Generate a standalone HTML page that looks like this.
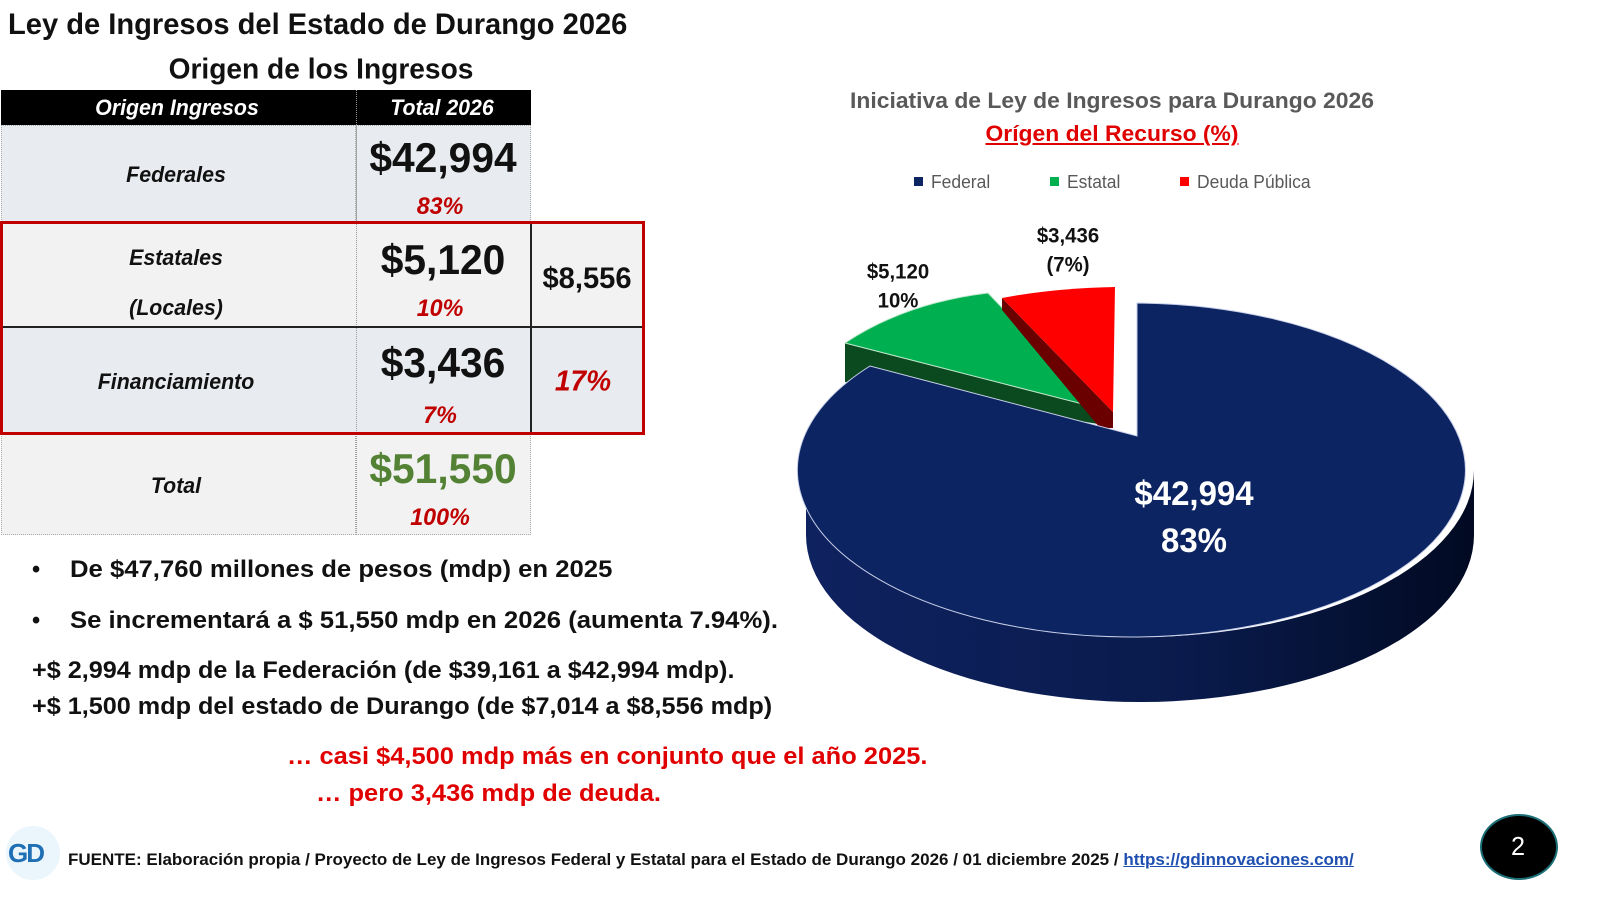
<!DOCTYPE html>
<html><head><meta charset="utf-8"><style>
html,body{margin:0;padding:0;background:#fff;}
body{width:1600px;height:901px;position:relative;overflow:hidden;font-family:"Liberation Sans",Arial,sans-serif;font-weight:bold;}
.t{position:absolute;white-space:nowrap;line-height:1;transform-origin:0 50%;transform:scaleX(.97);}
.c{position:absolute;white-space:nowrap;line-height:1;transform:translate(-50%,-50%) scaleX(.97);}
.i{font-style:italic;}
.cell{position:absolute;box-sizing:border-box;}
</style></head><body>
<div class="t" style="left:8px;top:10px;font-size:30px;color:#111">Ley de Ingresos del Estado de Durango 2026</div>
<div class="c" style="left:321px;top:70px;font-size:29px;color:#111">Origen de los Ingresos</div>

<!-- table -->
<div class="cell" style="left:1px;top:90px;width:530px;height:35px;background:#000"></div>
<div class="cell" style="left:1px;top:125px;width:355px;height:97px;background:#e8ebf0;border:1px dotted #aaa"></div>
<div class="cell" style="left:356px;top:125px;width:175px;height:97px;background:#e8ebf0;border:1px dotted #aaa"></div>
<div class="cell" style="left:1px;top:222px;width:642px;height:105px;background:#f2f2f2"></div>
<div class="cell" style="left:1px;top:327px;width:642px;height:106px;background:#e8ebf0"></div>
<div class="cell" style="left:1px;top:433px;width:355px;height:102px;background:#f2f2f2;border:1px dotted #aaa"></div>
<div class="cell" style="left:356px;top:433px;width:175px;height:102px;background:#f2f2f2;border:1px dotted #aaa"></div>
<div class="cell" style="left:356px;top:90px;width:1px;height:445px;border-left:1px dotted #999"></div>
<div class="cell" style="left:530px;top:222px;width:2px;height:211px;background:#222"></div>
<div class="cell" style="left:1px;top:326px;width:642px;height:2px;background:#222"></div>
<div class="cell" style="left:0;top:221px;width:645px;height:214px;border:3px solid #c00000"></div>

<div class="c i" style="left:177px;top:108px;font-size:22px;color:#fff">Origen Ingresos</div>
<div class="c i" style="left:442px;top:108px;font-size:22px;color:#fff">Total 2026</div>
<div class="c i" style="left:176px;top:175px;font-size:22px;color:#111">Federales</div>
<div class="c" style="left:443px;top:158px;font-size:42px;color:#111">$42,994</div>
<div class="c i" style="left:440px;top:207px;font-size:24px;color:#c00000">83%</div>
<div class="c i" style="left:176px;top:258px;font-size:22px;color:#111">Estatales</div>
<div class="c i" style="left:176px;top:308px;font-size:22px;color:#111">(Locales)</div>
<div class="c" style="left:443px;top:260px;font-size:42px;color:#111">$5,120</div>
<div class="c i" style="left:440px;top:309px;font-size:24px;color:#c00000">10%</div>
<div class="c" style="left:587px;top:279px;font-size:30px;color:#111">$8,556</div>
<div class="c i" style="left:176px;top:382px;font-size:22px;color:#111">Financiamiento</div>
<div class="c" style="left:443px;top:363px;font-size:42px;color:#111">$3,436</div>
<div class="c i" style="left:440px;top:416px;font-size:24px;color:#c00000">7%</div>
<div class="c i" style="left:583px;top:382px;font-size:29px;color:#c00000">17%</div>
<div class="c i" style="left:176px;top:486px;font-size:22px;color:#111">Total</div>
<div class="c" style="left:443px;top:469px;font-size:42px;color:#548235">$51,550</div>
<div class="c i" style="left:440px;top:518px;font-size:24px;color:#c00000">100%</div>

<!-- bullets -->
<div class="t" style="left:32px;top:558px;font-size:24px;color:#111">•</div>
<div class="t" style="left:70px;top:558px;font-size:24px;color:#111;transform:scaleX(1.07)">De $47,760 millones de pesos (mdp) en 2025</div>
<div class="t" style="left:32px;top:609px;font-size:24px;color:#111">•</div>
<div class="t" style="left:70px;top:609px;font-size:24px;color:#111;transform:scaleX(1.07)">Se incrementará a $ 51,550 mdp en 2026 (aumenta 7.94%).</div>
<div class="t" style="left:32px;top:659px;font-size:24px;color:#111;transform:scaleX(1.05)">+$ 2,994 mdp de la Federación (de $39,161 a $42,994 mdp).</div>
<div class="t" style="left:32px;top:695px;font-size:24px;color:#111;transform:scaleX(1.05)">+$ 1,500 mdp del estado de Durango (de $7,014 a $8,556 mdp)</div>
<div class="t" style="left:287px;top:745px;font-size:24px;color:#e00000;transform:scaleX(1.06)">… casi $4,500 mdp más en conjunto que el año 2025.</div>
<div class="t" style="left:316px;top:782px;font-size:24px;color:#e00000;transform:scaleX(1.06)">… pero 3,436 mdp de deuda.</div>

<!-- footer -->
<div style="position:absolute;left:6px;top:826px;width:54px;height:54px;border-radius:50%;background:#eaf6fb"></div>
<div class="t" style="left:8px;top:840px;font-size:26px;color:#1f6fb5;letter-spacing:-2px;transform:none">GD</div>
<div class="t" style="left:68px;top:851px;font-size:17px;color:#111;transform:scaleX(1.0)">FUENTE: Elaboración propia / Proyecto de Ley de Ingresos Federal y Estatal para el Estado de Durango 2026 / 01 diciembre 2025 / <span style="color:#1f4fb0;text-decoration:underline">https://gdinnovaciones.com/</span></div>
<div style="position:absolute;left:1480px;top:814px;width:74px;height:62px;border-radius:50%;background:#000;border:2px solid #1b6e76"></div>
<div class="c" style="left:1518px;top:846px;font-size:26px;color:#fff;font-weight:normal">2</div>

<!-- chart title/legend -->
<div class="c" style="left:1112px;top:101px;font-size:22px;color:#595959;transform:translate(-50%,-50%) scaleX(1.04)">Iniciativa de Ley de Ingresos para Durango 2026</div>
<div class="c" style="left:1112px;top:134px;font-size:22px;color:#e00000;text-decoration:underline;transform:translate(-50%,-50%) scaleX(1.04)">Orígen del Recurso (%)</div>
<div style="position:absolute;left:914px;top:177px;width:9px;height:9px;background:#0d2463"></div>
<div class="t" style="left:931px;top:173px;font-size:18px;color:#595959;font-weight:normal">Federal</div>
<div style="position:absolute;left:1050px;top:177px;width:9px;height:9px;background:#00b050"></div>
<div class="t" style="left:1067px;top:173px;font-size:18px;color:#595959;font-weight:normal">Estatal</div>
<div style="position:absolute;left:1180px;top:177px;width:9px;height:9px;background:#ff0000"></div>
<div class="t" style="left:1197px;top:173px;font-size:18px;color:#595959;font-weight:normal">Deuda Pública</div>

<svg style="position:absolute;left:0;top:0" width="1600" height="901">
<defs>
<linearGradient id="side" x1="0" x2="1" y1="0" y2="0"><stop offset="0" stop-color="#0f2260"/><stop offset=".6" stop-color="#091a4a"/><stop offset="1" stop-color="#020a22"/></linearGradient>
</defs>
<path d="M806,470 A334 167 0 0 0 1474,470 L1474,535 A334 167 0 0 1 806,535 Z" fill="url(#side)"/>
<path d="M845,343 L845,382 L1098,424 L1098,408 Z" fill="#0a4a1e"/>
<path d="M845,343 Q905,303 988,293 L1098,408 Z" fill="#00b050" stroke="#bfe8cc" stroke-width="1"/>
<path d="M1002,298 L1002,310 L1100,428 L1113,428 L1113,412 Z" fill="#6a0000"/>
<path d="M1002,298 Q1055,288 1115,287 L1113,412 Z" fill="#ff0000"/>
<path d="M1137,436 L1137,303 A334 167 0 1 1 870,366 Z" fill="#0d2463" stroke="#c8d0e8" stroke-width="1"/>
</svg>
<div class="c" style="left:1068px;top:236px;font-size:21px;color:#111">$3,436</div>
<div class="c" style="left:1068px;top:265px;font-size:21px;color:#111">(7%)</div>
<div class="c" style="left:898px;top:272px;font-size:21px;color:#111">$5,120</div>
<div class="c" style="left:898px;top:301px;font-size:21px;color:#111">10%</div>
<div class="c" style="left:1194px;top:494px;font-size:34px;color:#fff">$42,994</div>
<div class="c" style="left:1194px;top:541px;font-size:34px;color:#fff">83%</div>
</body></html>
